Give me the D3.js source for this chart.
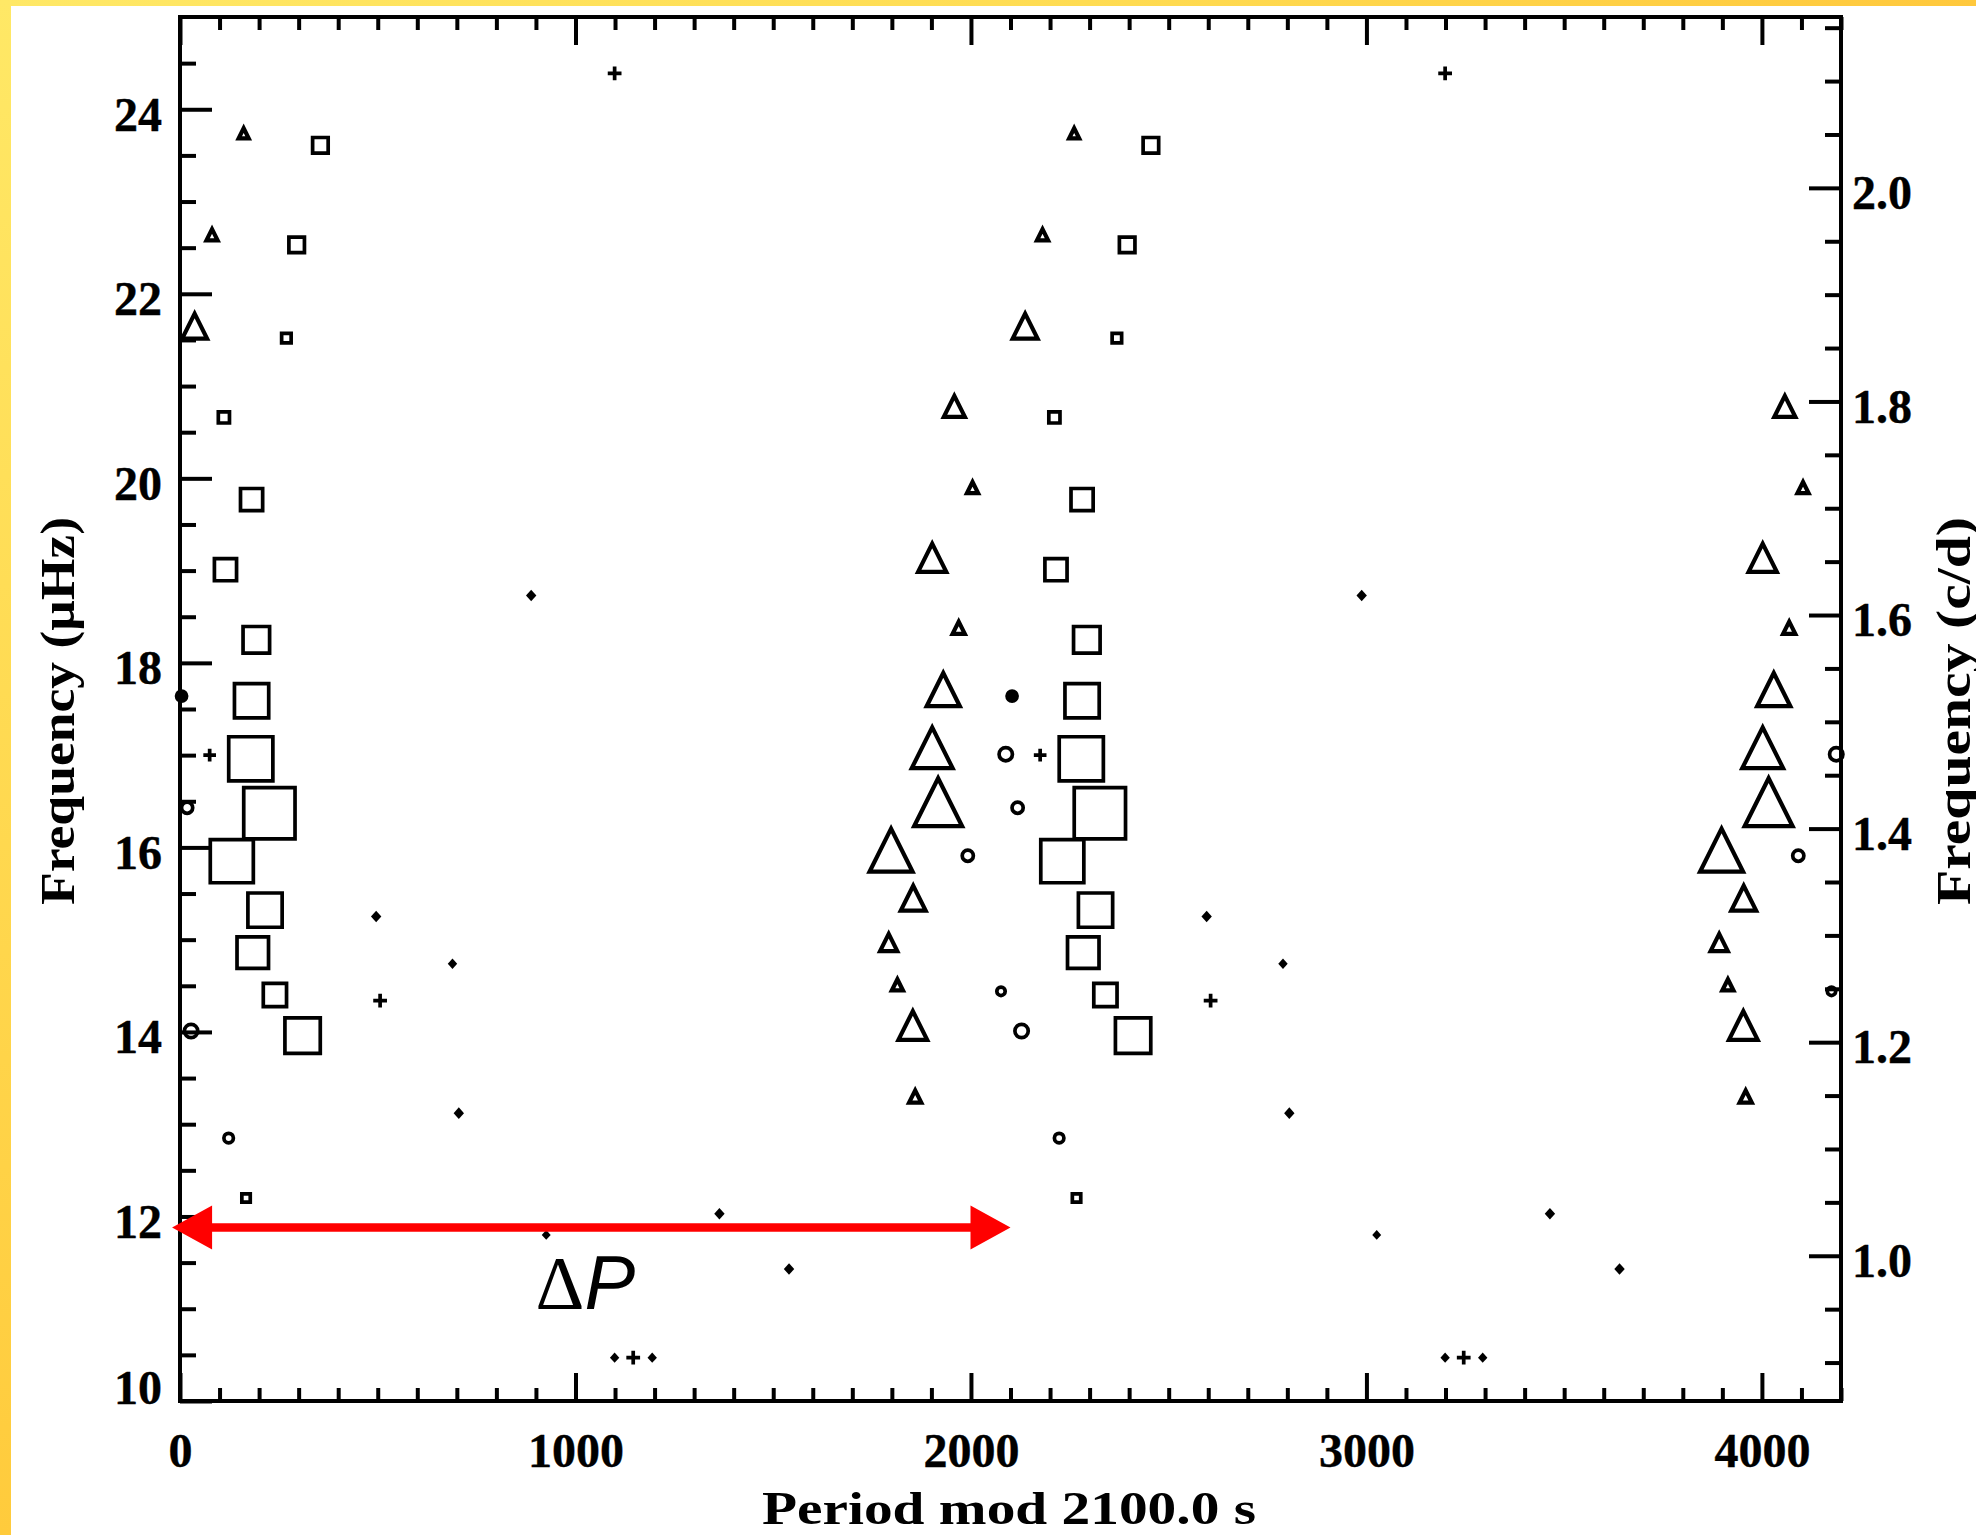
<!DOCTYPE html>
<html>
<head>
<meta charset="utf-8">
<script src="https://cdn.jsdelivr.net/npm/d3@7"></script>
<style>
  html, body { margin: 0; padding: 0; background: #fff; }
  svg { display: block; }
</style>
</head>
<body>
<script>
// Échelle diagram: pulsation period folded on ΔP = 2100 s against frequency.
// Symbol size encodes relative mode amplitude; every mode is drawn twice (p and p + ΔP).

const foldPeriod = 2100;          // s
const periodAxisMax = 4200;       // two folds side by side
const freqDomain = [10, 25];      // μHz
const muHzToCd = 0.0864;          // 1 μHz = 0.0864 cycles per day

const xMajorTicks = [0, 1000, 2000, 3000, 4000];
const yMajorTicks = [10, 12, 14, 16, 18, 20, 22, 24];
const cdMajorTicks = [1.0, 1.2, 1.4, 1.6, 1.8, 2.0];

// p: period mod 2100 s, f: frequency (μHz), a: relative amplitude
const squareModes = [
  { p: 355, f: 23.61, a: 0.35 },
  { p: 295, f: 22.53, a: 0.35 },
  { p: 269, f: 21.52, a: 0.24 },
  { p: 111, f: 20.66, a: 0.27 },
  { p: 181, f: 19.77, a: 0.47 },
  { p: 115, f: 19.01, a: 0.47 },
  { p: 193, f: 18.25, a: 0.55 },
  { p: 181, f: 17.59, a: 0.69 },
  { p: 179, f: 16.96, a: 0.87 },
  { p: 226, f: 16.37, a: 1.00 },
  { p: 131, f: 15.85, a: 0.85 },
  { p: 215, f: 15.32, a: 0.69 },
  { p: 184, f: 14.86, a: 0.64 },
  { p: 240, f: 14.40, a: 0.49 },
  { p: 310, f: 13.96, a: 0.71 },
  { p: 167, f: 12.20, a: 0.22 }
];

const triangleModes = [
  { p: 161, f: 23.74, a: 0.31 },
  { p: 81, f: 22.64, a: 0.33 },
  { p: 37, f: 21.65, a: 0.58 },
  { p: 1958, f: 20.78, a: 0.51 },
  { p: 2004, f: 19.90, a: 0.33 },
  { p: 1902, f: 19.14, a: 0.64 },
  { p: 1969, f: 18.38, a: 0.35 },
  { p: 1930, f: 17.71, a: 0.73 },
  { p: 1902, f: 17.08, a: 0.87 },
  { p: 1917, f: 16.49, a: 1.00 },
  { p: 1798, f: 15.97, a: 0.91 },
  { p: 1854, f: 15.45, a: 0.58 },
  { p: 1792, f: 14.97, a: 0.44 },
  { p: 1814, f: 14.51, a: 0.33 },
  { p: 1853, f: 14.07, a: 0.65 },
  { p: 1859, f: 13.30, a: 0.35 }
];

const circleModes = [
  { p: 2088, f: 17.01, a: 0.31 },
  { p: 18, f: 16.43, a: 0.27 },
  { p: 1992, f: 15.91, a: 0.27 },
  { p: 2076, f: 14.44, a: 0.22 },
  { p: 28, f: 14.01, a: 0.31 },
  { p: 123, f: 12.85, a: 0.24 }
];

const filledCircleModes = [
  { p: 4, f: 17.64, a: 0.25 }
];

const dotModes = [
  { p: 888, f: 18.73, a: 0.21 },
  { p: 496, f: 15.25, a: 0.21 },
  { p: 689, f: 14.74, a: 0.19 },
  { p: 705, f: 13.12, a: 0.21 },
  { p: 1364, f: 12.03, a: 0.21 },
  { p: 926, f: 11.80, a: 0.18 },
  { p: 1540, f: 11.43, a: 0.21 },
  { p: 1099, f: 10.47, a: 0.19 },
  { p: 1194, f: 10.47, a: 0.19 }
];

const plusModes = [
  { p: 1099, f: 24.39, a: 0.25 },
  { p: 506, f: 14.34, a: 0.25 },
  { p: 1146, f: 10.47, a: 0.25 },
  { p: 75, f: 17.00, a: 0.23 }
];

// ΔP annotation arrow (period range in s, at a frequency in μHz)
const deltaPArrow = { from: -20, to: 2100, f: 11.88 };
const deltaPLabel = { p: 1025, f: 11.0 };

// ---------------------------------------------------------------------------
const W = 1976, H = 1535;
const M = { left: 180, right: 1841, top: 17, bottom: 1401 };
const axisFont = "'Liberation Serif', 'DejaVu Serif', serif";

const svg = d3.select("body").append("svg")
  .attr("width", W).attr("height", H)
  .attr("viewBox", `0 0 ${W} ${H}`);

// slide frame: yellow strips along top and left edges
const defs = svg.append("defs");
const gTop = defs.append("linearGradient").attr("id", "gTop")
  .attr("x1", 0).attr("y1", 0).attr("x2", 1).attr("y2", 0);
gTop.append("stop").attr("offset", 0).attr("stop-color", "#ffe866");
gTop.append("stop").attr("offset", 0.55).attr("stop-color", "#ffdc52");
gTop.append("stop").attr("offset", 1).attr("stop-color", "#ffc83c");
const gLeft = defs.append("linearGradient").attr("id", "gLeft")
  .attr("x1", 0).attr("y1", 0).attr("x2", 0).attr("y2", 1);
gLeft.append("stop").attr("offset", 0).attr("stop-color", "#ffe866");
gLeft.append("stop").attr("offset", 1).attr("stop-color", "#ffcb3c");

svg.append("rect").attr("width", W).attr("height", H).attr("fill", "#fff");
svg.append("rect").attr("x", 0).attr("y", 0).attr("width", W).attr("height", 6).attr("fill", "url(#gTop)");
svg.append("rect").attr("x", 0).attr("y", 0).attr("width", 11).attr("height", H).attr("fill", "url(#gLeft)");

// scales
const x = d3.scaleLinear().domain([0, periodAxisMax]).range([M.left, M.right]);
const y = d3.scaleLinear().domain(freqDomain).range([M.bottom, M.top]);
const yCd = d3.scaleLinear().domain(freqDomain.map(f => f * muHzToCd)).range([M.bottom, M.top]);
const sizeScale = d3.scaleLinear().domain([0, 1]).range([0, 55]);

// frame
svg.append("rect")
  .attr("x", M.left).attr("y", M.top)
  .attr("width", M.right - M.left).attr("height", M.bottom - M.top)
  .attr("fill", "none").attr("stroke", "#000").attr("stroke-width", 4);

function styleAxis(g) {
  g.select(".domain").remove();
  g.selectAll(".tick line").attr("stroke", "#000").attr("stroke-width", 4);
  g.attr("font-family", axisFont).attr("font-size", 48).attr("font-weight", "bold");
  g.selectAll(".tick text").attr("fill", "#000")
    .attr("stroke", "#000").attr("stroke-width", 0.4);
}

const xMinor = d3.range(0, 43).map(i => i * 100).filter(v => v % 1000 !== 0);
const yMinor = d3.range(20, 50).map(i => i / 2).filter(v => v % 2 !== 0);
const cdMinor = d3.range(18, 44).map(i => +(i * 0.05).toFixed(2))
  .filter(v => !cdMajorTicks.some(t => Math.abs(t - v) < 1e-6));

// bottom
svg.append("g").attr("transform", `translate(0,${M.bottom})`)
  .call(d3.axisBottom(x).tickValues(xMinor).tickSize(-13).tickFormat(""))
  .call(styleAxis);
svg.append("g").attr("transform", `translate(0,${M.bottom})`)
  .call(d3.axisBottom(x).tickValues(xMajorTicks).tickSize(-28).tickFormat(d3.format("d")))
  .call(styleAxis)
  .call(g => g.selectAll(".tick text").attr("y", 66).attr("dy", 0));

// top
svg.append("g").attr("transform", `translate(0,${M.top})`)
  .call(d3.axisTop(x).tickValues(xMinor).tickSize(-13).tickFormat(""))
  .call(styleAxis);
svg.append("g").attr("transform", `translate(0,${M.top})`)
  .call(d3.axisTop(x).tickValues(xMajorTicks).tickSize(-28).tickFormat(""))
  .call(styleAxis);

// left (μHz)
svg.append("g").attr("transform", `translate(${M.left},0)`)
  .call(d3.axisLeft(y).tickValues(yMinor).tickSize(-16).tickFormat(""))
  .call(styleAxis);
svg.append("g").attr("transform", `translate(${M.left},0)`)
  .call(d3.axisLeft(y).tickValues(yMajorTicks).tickSize(-32).tickPadding(18).tickFormat(d3.format("d")))
  .call(styleAxis)
  .call(g => g.selectAll(".tick text")
    .attr("y", d => Math.min(4, (M.bottom - 14) - y(d)))
    .attr("dy", "0.35em"));

// right (c/d)
svg.append("g").attr("transform", `translate(${M.right},0)`)
  .call(d3.axisRight(yCd).tickValues(cdMinor).tickSize(-16).tickFormat(""))
  .call(styleAxis);
svg.append("g").attr("transform", `translate(${M.right},0)`)
  .call(d3.axisRight(yCd).tickValues(cdMajorTicks).tickSize(-32).tickPadding(11).tickFormat(d3.format(".1f")))
  .call(styleAxis)
  .call(g => g.selectAll(".tick text").attr("y", 4).attr("dy", "0.35em"));

// symbols
const SW = 3.7;        // outline width of open symbols
const TRI_SW = 4.2;    // triangles are drawn a little heavier
function shapePath(shape, outer) {
  const p = d3.path();
  if (shape === "square") {
    const h = (outer - SW) / 2;
    p.rect(-h, -h, 2 * h, 2 * h);
  } else if (shape === "triangle") {
    const h = Math.max(outer - 7, 3) / 2;
    p.moveTo(-h, h); p.lineTo(h, h); p.lineTo(0, -h); p.closePath();
  } else if (shape === "circle") {
    const r = (outer - SW) / 2;
    p.moveTo(r, 0); p.arc(0, 0, r, 0, 2 * Math.PI);
  } else if (shape === "disc") {
    const r = outer / 2;
    p.moveTo(r, 0); p.arc(0, 0, r, 0, 2 * Math.PI);
  } else if (shape === "diamond") {
    const h = outer / 2;
    p.moveTo(0, -h); p.lineTo(h * 0.9, 0); p.lineTo(0, h); p.lineTo(-h * 0.9, 0); p.closePath();
  } else if (shape === "plus") {
    const h = outer / 2;
    p.moveTo(-h, 0); p.lineTo(h, 0); p.moveTo(0, -h); p.lineTo(0, h);
  }
  return p.toString();
}

const gPts = svg.append("g");
function drawSeries(data, shape, filled) {
  const pts = data.flatMap(d => [0, foldPeriod].map(off => ({ ...d, px: d.p + off })))
    .filter(d => d.px >= 0 && d.px <= periodAxisMax);
  gPts.append("g").selectAll("path").data(pts).join("path")
    .attr("transform", d => `translate(${x(d.px)},${y(d.f)})`)
    .attr("d", d => shapePath(shape, sizeScale(d.a)))
    .attr("fill", filled ? "#000" : "none")
    .attr("stroke", filled ? "none" : "#000")
    .attr("stroke-width", shape === "triangle" ? TRI_SW : SW)
    .attr("stroke-linejoin", "miter");
}

drawSeries(squareModes, "square", false);
drawSeries(triangleModes, "triangle", false);
drawSeries(circleModes, "circle", false);
drawSeries(filledCircleModes, "disc", true);
drawSeries(dotModes, "diamond", true);
drawSeries(plusModes, "plus", false);

// ΔP arrow
const headLen = 40, headHalf = 22;
const ax0 = x(deltaPArrow.from), ax1 = x(deltaPArrow.to), ay = y(deltaPArrow.f);
svg.append("line")
  .attr("x1", ax0 + headLen - 2).attr("x2", ax1 - headLen + 2)
  .attr("y1", ay).attr("y2", ay)
  .attr("stroke", "#ff0000").attr("stroke-width", 8.5);
const heads = d3.path();
heads.moveTo(ax0, ay); heads.lineTo(ax0 + headLen, ay - headHalf); heads.lineTo(ax0 + headLen, ay + headHalf); heads.closePath();
heads.moveTo(ax1, ay); heads.lineTo(ax1 - headLen, ay - headHalf); heads.lineTo(ax1 - headLen, ay + headHalf); heads.closePath();
svg.append("path").attr("d", heads.toString()).attr("fill", "#ff0000");

const dp = svg.append("text")
  .attr("x", x(deltaPLabel.p)).attr("y", y(deltaPLabel.f))
  .attr("text-anchor", "middle").attr("font-size", 76).attr("fill", "#000");
dp.append("tspan").attr("font-family", "'Liberation Serif', serif").text("Δ");
dp.append("tspan").attr("font-family", "'Liberation Sans', Arial, sans-serif")
  .attr("font-style", "italic").text("P");

// axis titles
svg.append("text")
  .attr("x", 1009).attr("y", 1524)
  .attr("text-anchor", "middle")
  .attr("font-family", axisFont).attr("font-size", 46).attr("font-weight", "bold")
  .attr("textLength", 494).attr("lengthAdjust", "spacingAndGlyphs")
  .text("Period mod 2100.0 s");

svg.append("text")
  .attr("transform", "translate(74,711) rotate(-90)")
  .attr("text-anchor", "middle")
  .attr("font-family", axisFont).attr("font-size", 48).attr("font-weight", "bold")
  .attr("textLength", 388).attr("lengthAdjust", "spacingAndGlyphs")
  .text("Frequency (μHz)");

svg.append("text")
  .attr("transform", "translate(1970,711) rotate(-90)")
  .attr("text-anchor", "middle")
  .attr("font-family", axisFont).attr("font-size", 48).attr("font-weight", "bold")
  .attr("textLength", 388).attr("lengthAdjust", "spacingAndGlyphs")
  .text("Frequency (c/d)");
</script>
</body>
</html>
